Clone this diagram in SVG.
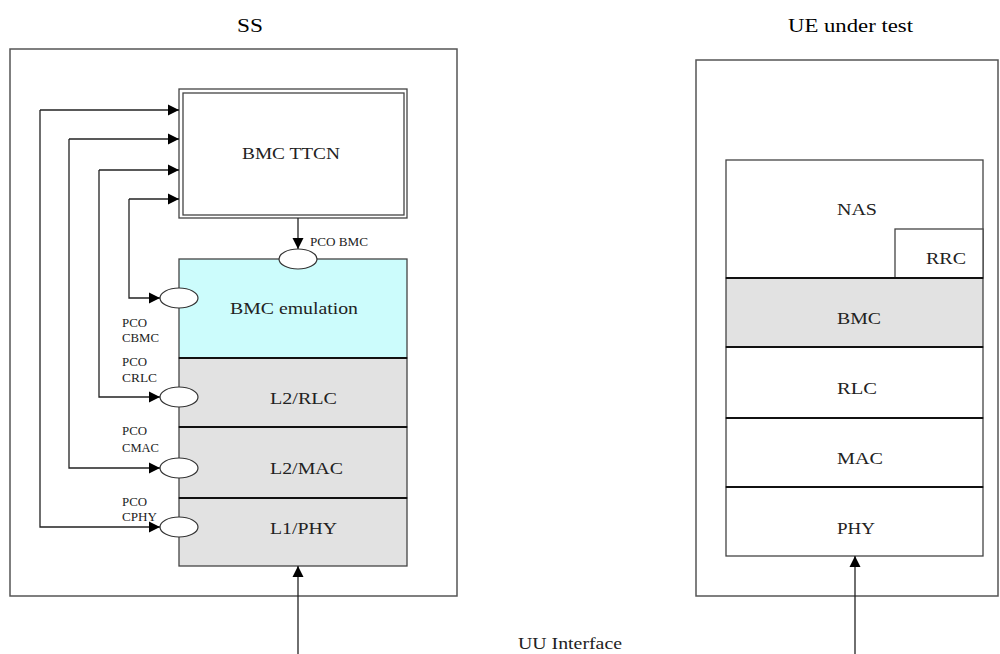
<svg xmlns="http://www.w3.org/2000/svg" width="1000" height="654" viewBox="0 0 1000 654">
<style>
.frame{fill:#fff;stroke:#555;stroke-width:1.5}
.box{stroke:#444;stroke-width:1.3}
.div{stroke:#111;stroke-width:2}
.gray{fill:#e2e2e2}
.cyan{fill:#ccfcfc}
.wire{fill:none;stroke:#222;stroke-width:1.3}
.pco{fill:#fff;stroke:#333;stroke-width:1.2}
text{font-family:"Liberation Serif","Times New Roman",serif;fill:#222}
.t{font-size:17px}
.h{font-size:18px;fill:#000}
.s{font-size:12px}
</style>
<defs>
<marker id="ah" markerWidth="12" markerHeight="12" refX="11" refY="6" orient="auto" markerUnits="userSpaceOnUse">
<path d="M0,0.5 L11,6 L0,11.5 Z" fill="#000"/>
</marker>
</defs>
<text class="h" x="237" y="32" textLength="26" lengthAdjust="spacingAndGlyphs">SS</text>
<text class="h" x="788" y="32" textLength="125" lengthAdjust="spacingAndGlyphs">UE under test</text>
<text class="t" x="518" y="649" textLength="104" lengthAdjust="spacingAndGlyphs">UU Interface</text>
<g id="ss">
<rect class="frame" x="10" y="49" width="447" height="547"/>
</g>
<g id="bmc-ttcn">
<rect class="box" fill="#fff" x="179" y="89" width="228" height="129"/>
<rect fill="none" stroke="#444" stroke-width="1.3" x="183" y="93" width="221" height="122"/>
<text class="t" x="242" y="159" textLength="98" lengthAdjust="spacingAndGlyphs">BMC TTCN</text>
</g>
<g id="bmc-emulation">
<rect class="box cyan" x="179" y="259" width="228" height="99"/>
<text class="t" x="230" y="314" textLength="128" lengthAdjust="spacingAndGlyphs">BMC emulation</text>
</g>
<g id="l2-rlc">
<rect class="box gray" x="179" y="358" width="228" height="69"/>
<text class="t" x="270" y="404" textLength="67" lengthAdjust="spacingAndGlyphs">L2/RLC</text>
</g>
<g id="l2-mac">
<rect class="box gray" x="179" y="427" width="228" height="71"/>
<text class="t" x="270" y="474" textLength="73" lengthAdjust="spacingAndGlyphs">L2/MAC</text>
</g>
<g id="l1-phy">
<rect class="box gray" x="179" y="498" width="228" height="68"/>
<text class="t" x="270" y="534" textLength="67" lengthAdjust="spacingAndGlyphs">L1/PHY</text>
</g>
<g id="ss-dividers">
<line class="div" x1="179" y1="358" x2="407" y2="358"/>
<line class="div" x1="179" y1="427" x2="407" y2="427"/>
<line class="div" x1="179" y1="498" x2="407" y2="498"/>
</g>
<g id="ue">
<rect class="frame" x="696" y="60" width="302" height="536"/>
</g>
<g id="nas">
<rect class="box" fill="#fff" x="726" y="160" width="257" height="118"/>
<text class="t" x="837" y="215" textLength="40" lengthAdjust="spacingAndGlyphs">NAS</text>
</g>
<g id="rrc">
<rect class="box" fill="#fff" x="895" y="229" width="88" height="49"/>
<text class="t" x="926" y="264" textLength="40" lengthAdjust="spacingAndGlyphs">RRC</text>
</g>
<g id="ue-bmc">
<rect class="box gray" x="726" y="278" width="257" height="69"/>
<text class="t" x="837" y="324" textLength="44" lengthAdjust="spacingAndGlyphs">BMC</text>
</g>
<g id="ue-rlc">
<rect class="box" fill="#fff" x="726" y="347" width="257" height="71"/>
<text class="t" x="837" y="394" textLength="40" lengthAdjust="spacingAndGlyphs">RLC</text>
</g>
<g id="ue-mac">
<rect class="box" fill="#fff" x="726" y="418" width="257" height="69"/>
<text class="t" x="837" y="464" textLength="46" lengthAdjust="spacingAndGlyphs">MAC</text>
</g>
<g id="ue-phy">
<rect class="box" fill="#fff" x="726" y="487" width="257" height="69"/>
<text class="t" x="837" y="534" textLength="38" lengthAdjust="spacingAndGlyphs">PHY</text>
</g>
<g id="ue-dividers">
<line class="div" x1="726" y1="278" x2="983" y2="278"/>
<line class="div" x1="726" y1="347" x2="983" y2="347"/>
<line class="div" x1="726" y1="418" x2="983" y2="418"/>
<line class="div" x1="726" y1="487" x2="983" y2="487"/>
</g>
<g id="connectors">
<line class="wire" x1="298" y1="218" x2="298" y2="249" marker-end="url(#ah)"/>
<polyline class="wire" points="40,110 179,110" marker-end="url(#ah)"/>
<polyline class="wire" points="69,139 179,139" marker-end="url(#ah)"/>
<polyline class="wire" points="99,170 179,170" marker-end="url(#ah)"/>
<polyline class="wire" points="129,199 179,199" marker-end="url(#ah)"/>
<polyline class="wire" points="129,199 129,298 160,298" marker-end="url(#ah)"/>
<polyline class="wire" points="99,170 99,397 160,397" marker-end="url(#ah)"/>
<polyline class="wire" points="69,139 69,468 160,468" marker-end="url(#ah)"/>
<polyline class="wire" points="40,110 40,527 160,527" marker-end="url(#ah)"/>
<line class="wire" x1="298" y1="654" x2="298" y2="566" marker-end="url(#ah)"/>
<line class="wire" x1="855" y1="654" x2="855" y2="556" marker-end="url(#ah)"/>
</g>
<g id="pco-bmc">
<ellipse class="pco" cx="298" cy="259" rx="19" ry="10"/>
<text class="s" x="310" y="246" textLength="58" lengthAdjust="spacingAndGlyphs">PCO BMC</text>
</g>
<g id="pco-cbmc">
<ellipse class="pco" cx="179" cy="298" rx="19" ry="10"/>
<text class="s" x="122" y="327" textLength="25" lengthAdjust="spacingAndGlyphs">PCO</text>
<text class="s" x="122" y="342" textLength="37" lengthAdjust="spacingAndGlyphs">CBMC</text>
</g>
<g id="pco-crlc">
<ellipse class="pco" cx="179" cy="397" rx="19" ry="10"/>
<text class="s" x="122" y="366" textLength="25" lengthAdjust="spacingAndGlyphs">PCO</text>
<text class="s" x="122" y="382" textLength="35" lengthAdjust="spacingAndGlyphs">CRLC</text>
</g>
<g id="pco-cmac">
<ellipse class="pco" cx="179" cy="468" rx="19" ry="10"/>
<text class="s" x="122" y="435" textLength="25" lengthAdjust="spacingAndGlyphs">PCO</text>
<text class="s" x="122" y="452" textLength="37" lengthAdjust="spacingAndGlyphs">CMAC</text>
</g>
<g id="pco-cphy">
<ellipse class="pco" cx="179" cy="527" rx="19" ry="10"/>
<text class="s" x="122" y="506" textLength="25" lengthAdjust="spacingAndGlyphs">PCO</text>
<text class="s" x="122" y="521" textLength="35" lengthAdjust="spacingAndGlyphs">CPHY</text>
</g>
</svg>
